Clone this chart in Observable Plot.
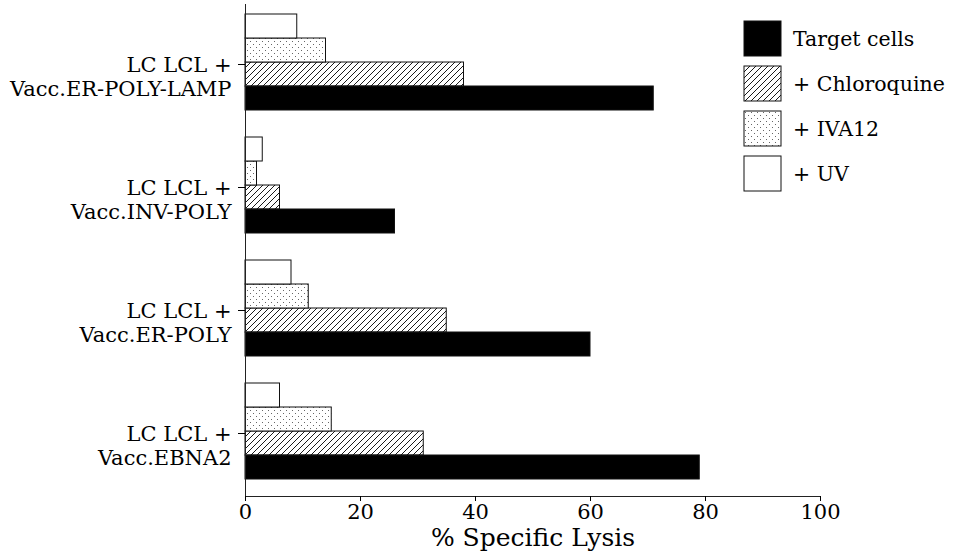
<!DOCTYPE html>
<html><head><meta charset="utf-8">
<script src="https://cdn.jsdelivr.net/npm/d3@7"></script>
<script src="https://cdn.jsdelivr.net/npm/@observablehq/plot@0.6"></script>
<style>
body{margin:0;background:#fff;}
#wrap{position:relative;width:953px;height:554px;}
#legend{position:absolute;left:0;top:0;pointer-events:none;}
</style></head><body>
<svg width="0" height="0" style="position:absolute">
<defs>
<pattern id="hatch" patternUnits="userSpaceOnUse" width="6" height="6">
<path d="M-1,1 l2,-2 M0,6 l6,-6 M5,7 l2,-2" stroke="#000" stroke-width="0.9"/>
</pattern>
<pattern id="dots" patternUnits="userSpaceOnUse" width="6" height="6">
<rect width="6" height="6" fill="#fff"/>
<rect x="1" y="1" width="1" height="1" fill="#666"/>
<rect x="4" y="4" width="1" height="1" fill="#666"/>
</pattern>
</defs></svg>
<div id="wrap"></div>
<script>
// Data
const groups = ["Vacc.ER-POLY-LAMP", "Vacc.INV-POLY", "Vacc.ER-POLY", "Vacc.EBNA2"];
const groupPrefix = "LC LCL +";
const series = ["Target cells", "+ Chloroquine", "+ IVA12", "+ UV"];
const targetCells = [71, 26, 60, 79];
const chloroquine = [38, 6, 35, 31];
const iva12 = [14, 2, 11, 15];
const uv = [9, 3, 8, 6];
const xTicks = [0, 20, 40, 60, 80, 100];
const xLabel = "% Specific Lysis";
const fills = ["#000", "url(#hatch)", "url(#dots)", "#fff"];

const seriesValues = [targetCells, chloroquine, iva12, uv];
const rows = [];
groups.forEach((g, i) => series.forEach((s, j) => rows.push({group: g, series: s, value: seriesValues[j][i]})));

const font = "DejaVu Serif";
const plot = Plot.plot({
  width: 953, height: 554,
  marginLeft: 245, marginRight: 133, marginTop: 3, marginBottom: 57,
  style: {fontFamily: font, background: "transparent", color: "#000"},
  x: {domain: [0, 100]},
  y: {domain: [...series].reverse(), paddingInner: 0, paddingOuter: 0.48, align: 0.38, axis: null},
  fy: {domain: groups, padding: 0},
  color: {domain: series, range: fills},
  facet: {marginTop: 0, marginBottom: 0, marginLeft: 0, marginRight: 0},
  marks: [
    Plot.barX(rows, {x: "value", y: "series", fy: "group", fill: "series", stroke: "#111", strokeWidth: 1}),
    Plot.frame({anchor: "left", facet: "super", stroke: "#222"}),
    Plot.frame({anchor: "bottom", facet: "super", stroke: "#222"}),
    // tick marks
    Plot.axisFy({anchor: "left", tickSize: 7, dy: -1.5, tickFormat: () => "", label: null}),
    // two-line group labels, first line centred on the tick
    Plot.axisFy({anchor: "left", tickSize: 0, tickPadding: 14, fontSize: 21, label: null,
      tickFormat: g => groupPrefix + "\n" + g, lineHeight: 1.14, dy: 10.5, textAnchor: "end"}),
    Plot.axisX({anchor: "bottom", ticks: xTicks, tickSize: 5, tickPadding: 3,
      fontSize: 21, label: null}),
    Plot.text([xLabel], {frameAnchor: "bottom", facet: "super", dy: 49, fontSize: 25})
  ]
});
document.getElementById("wrap").appendChild(plot);

// Legend (top right)
const leg = d3.select("#wrap").append("svg").attr("id", "legend").attr("width", 953).attr("height", 210);
const lg = leg.selectAll("g").data(series).join("g")
  .attr("transform", (d, i) => `translate(744,${21 + i * 45})`);
lg.append("rect").attr("width", 37).attr("height", 35)
  .attr("fill", (d, i) => fills[i]).attr("stroke", "#111").attr("stroke-width", 1);
lg.append("text").attr("x", 49).attr("y", 17.5).attr("dy", "0.35em")
  .attr("font-family", font).attr("font-size", 20.5).text(d => d);
</script>
</body></html>
